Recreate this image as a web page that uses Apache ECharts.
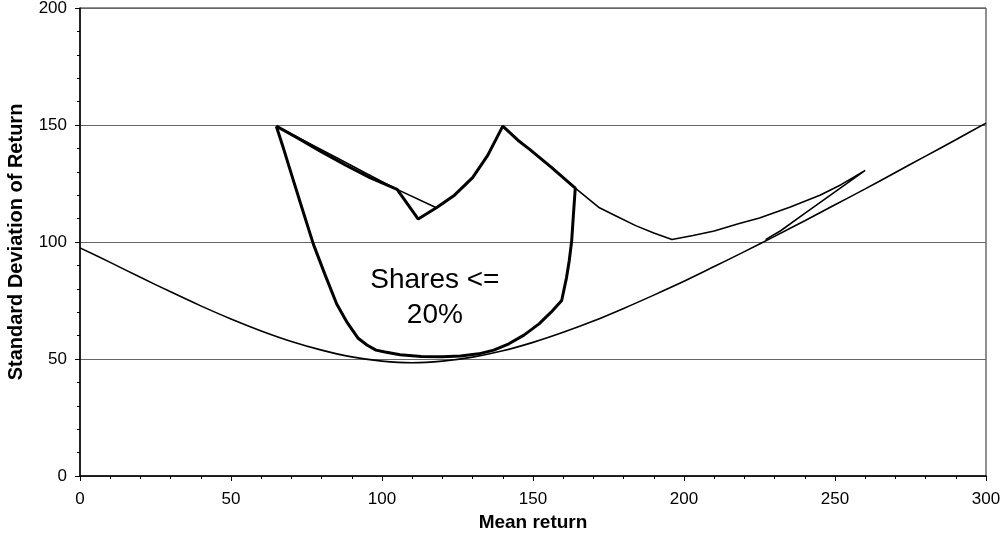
<!DOCTYPE html>
<html>
<head>
<meta charset="utf-8">
<script src="https://cdn.jsdelivr.net/npm/echarts@6/dist/echarts.min.js"></script>
<style>
html,body{margin:0;padding:0;background:#fff;}
#chart{width:1003px;height:543px;}
</style>
</head>
<body>
<div id="chart"></div>
<script>
// Lower (unconstrained) frontier
var allX = [0,10,20,30,40,50,60,70,80,90,100,110,120,130,140,150,160,170,180,190,200,210,220,230,240,250,260,270,280,290,300];
var allY = [97.5,91.3,84.9,78.7,72.7,67.1,62.0,57.5,53.8,50.9,49.1,48.4,49.1,50.8,53.5,57.1,61.4,66.2,71.6,77.3,83.2,89.5,95.9,102.4,109.1,115.9,122.7,129.7,136.7,143.7,150.8];

// Upper thin curve
var upperX = [65,75,85,95,105,118,124,130,135,140,145,149,156,164,172,178,184,190,196,203,210,218,225,235,245,252,260,250,240,232,227];
var upperY = [149.5,142.8,136,129.2,122.5,114.6,120,127.5,137,149.5,143.5,139.5,132,123,114.6,110.8,107,103.8,101.1,102.8,104.7,107.8,110.3,114.9,120,124.5,130.6,121.4,112.2,104.8,101.0];

// "Shares <= 20%" constrained region (thick)
var sharesX = [65,72,80,88,96,105,112,118,124,130,135,140,145,149,156,164,163.4,162.8,162,161.1,159.5,156,152,147,142,137,132,126,120,113,106,101,98,95,92,88.5,85,81,77.3,73.5,70,67.5,65];
var sharesY = [149.5,144.5,138.5,132.8,127.5,122.5,109.8,114.6,120,127.5,137,149.5,143.5,139.5,132,123,112,100.4,92,84.8,75,70,65,60.2,56.5,53.8,52.2,51.3,51,51.1,51.8,53,53.8,56,59,65.5,73.5,86.5,99,114.5,129,139.5,149.5];

// Annotation
var noteText = ['Shares <=', '20%'];
var notePos = [117.5, 76];

var xTicks = {min:0, max:300, interval:50};
var yTicks = {min:0, max:200, interval:50};

function zip(xs, ys){ return xs.map(function(x,i){ return [x, ys[i]]; }); }

var font = '"Liberation Sans", Arial, sans-serif';
var chart = echarts.init(document.getElementById('chart'), null, {renderer:'canvas'});
chart.setOption({
  animation: false,
  backgroundColor: '#fff',
  grid: {left:80, right:17, top:8, bottom:67, show:true, borderColor:'#222', borderWidth:1,
         containLabel:false, outerBoundsMode:'none'},
  xAxis: {
    type:'value', min:xTicks.min, max:xTicks.max, interval:xTicks.interval,
    name:'Mean return', nameLocation:'middle', nameGap:36,
    nameTextStyle:{fontFamily:font, fontWeight:'bold', fontSize:19, color:'#000'},
    axisLine:{show:true, lineStyle:{color:'#000', width:1.5}},
    axisTick:{show:true, length:5, lineStyle:{color:'#000'}},
    minorTick:{show:true, splitNumber:5, length:3, lineStyle:{color:'#000'}},
    axisLabel:{fontFamily:font, fontSize:17, color:'#000', margin:15},
    splitLine:{show:false}
  },
  yAxis: {
    type:'value', min:yTicks.min, max:yTicks.max, interval:yTicks.interval,
    name:'Standard Deviation of Return', nameLocation:'middle', nameGap:54, nameRotate:90,
    nameTextStyle:{fontFamily:font, fontWeight:'bold', fontSize:20, color:'#000'},
    axisLine:{show:true, lineStyle:{color:'#000', width:1.5}},
    axisTick:{show:true, length:5, lineStyle:{color:'#000'}},
    minorTick:{show:true, splitNumber:5, length:3, lineStyle:{color:'#000'}},
    axisLabel:{fontFamily:font, fontSize:17, color:'#000', margin:13},
    splitLine:{show:true, lineStyle:{color:'#666', width:1}}
  },
  series: [
    {type:'line', data:zip(allX, allY), showSymbol:false, smooth:0.3,
     lineStyle:{color:'#000', width:1.6}},
    {type:'line', data:zip(upperX, upperY), showSymbol:false, smooth:false,
     lineStyle:{color:'#000', width:1.6}},
    {type:'line', data:zip(sharesX, sharesY), showSymbol:false, smooth:false,
     lineStyle:{color:'#000', width:3}},
    {type:'scatter', data:[notePos], symbolSize:1, itemStyle:{color:'#fff', opacity:1},
     label:{show:true, position:'inside', formatter:noteText.join('\n'), opacity:1,
            fontFamily:font, fontSize:28, lineHeight:35, color:'#000', align:'center'}}
  ]
});
</script>
</body>
</html>
